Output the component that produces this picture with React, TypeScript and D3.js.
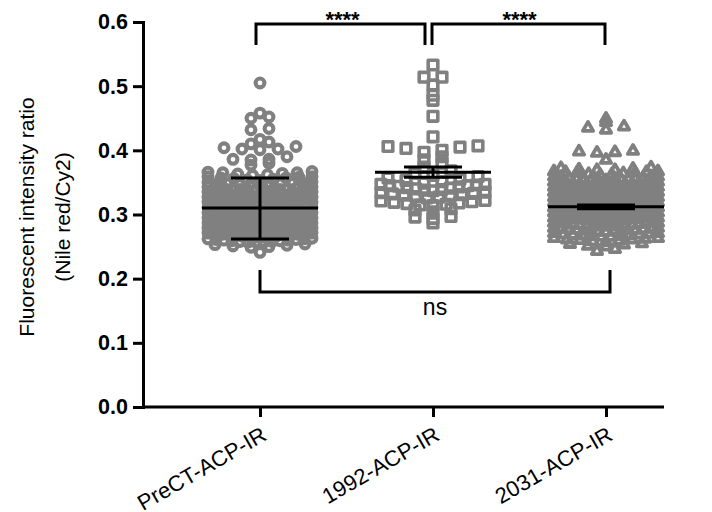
import React from 'react';
import * as d3 from 'd3';

const categories = ['PreCT-ACP-IR', '1992-ACP-IR', '2031-ACP-IR'];

const preCTValues = [
  0.241,
  0.249, 0.250, 0.251, 0.252, 0.253, 0.254,
  0.257, 0.257, 0.257, 0.258, 0.258, 0.259, 0.259, 0.260, 0.260, 0.261, 0.261, 0.262, 0.262, 0.263,
  0.265, 0.265, 0.265, 0.266, 0.266, 0.267, 0.267, 0.268, 0.268, 0.268, 0.269, 0.269, 0.270, 0.270, 0.271, 0.271,
  0.273, 0.273, 0.273, 0.274, 0.274, 0.275, 0.275, 0.276, 0.276, 0.276, 0.277, 0.277, 0.278, 0.278, 0.279, 0.279,
  0.281, 0.281, 0.281, 0.282, 0.282, 0.283, 0.283, 0.284, 0.284, 0.284, 0.285, 0.285, 0.286, 0.286, 0.287, 0.287, 0.287,
  0.289, 0.289, 0.289, 0.290, 0.290, 0.291, 0.291, 0.292, 0.292, 0.292, 0.293, 0.293, 0.294, 0.294, 0.295, 0.295, 0.295,
  0.297, 0.297, 0.297, 0.298, 0.298, 0.299, 0.299, 0.300, 0.300, 0.300, 0.301, 0.301, 0.302, 0.302, 0.303, 0.303, 0.303,
  0.305, 0.305, 0.305, 0.306, 0.306, 0.307, 0.307, 0.308, 0.308, 0.308, 0.309, 0.309, 0.310, 0.310, 0.311, 0.311, 0.311,
  0.313, 0.313, 0.313, 0.314, 0.314, 0.315, 0.315, 0.316, 0.316, 0.316, 0.317, 0.317, 0.318, 0.318, 0.319, 0.319,
  0.321, 0.321, 0.321, 0.322, 0.322, 0.323, 0.323, 0.324, 0.324, 0.324, 0.325, 0.325, 0.326, 0.326, 0.327, 0.327,
  0.329, 0.329, 0.330, 0.330, 0.331, 0.331, 0.332, 0.332, 0.332, 0.333, 0.333, 0.334, 0.334, 0.335, 0.335,
  0.337, 0.337, 0.338, 0.338, 0.339, 0.339, 0.340, 0.340, 0.341, 0.341, 0.342, 0.342, 0.343, 0.343,
  0.345, 0.346, 0.347, 0.347, 0.348, 0.348, 0.349, 0.349, 0.350, 0.350, 0.351,
  0.353, 0.354, 0.355, 0.356, 0.357, 0.357, 0.358, 0.359, 0.359,
  0.361, 0.362, 0.363, 0.364, 0.365, 0.365, 0.366, 0.367,
  0.377, 0.380, 0.385, 0.386, 0.386, 0.390,
  0.401, 0.402, 0.402, 0.404, 0.406, 0.410, 0.413, 0.417,
  0.432, 0.434, 0.450, 0.452, 0.458, 0.505,
];

const values1992 = [
  0.287, 0.294, 0.296, 0.297,
  0.304, 0.307, 0.309,
  0.314, 0.315, 0.316, 0.317, 0.318, 0.319, 0.320, 0.321, 0.322,
  0.326, 0.327, 0.328, 0.329, 0.330, 0.331, 0.332, 0.333, 0.334, 0.335,
  0.337, 0.338, 0.339, 0.340, 0.341, 0.342, 0.343, 0.344, 0.345, 0.345, 0.346, 0.347, 0.347,
  0.349, 0.351, 0.353, 0.355, 0.357, 0.359,
  0.361, 0.364, 0.368,
  0.374, 0.380,
  0.385, 0.390,
  0.397, 0.400, 0.403, 0.405, 0.406, 0.407,
  0.421, 0.453, 0.478, 0.486, 0.502, 0.514, 0.514, 0.533,
];

const values2031 = [
  0.243, 0.246,
  0.250, 0.251, 0.253, 0.254, 0.255,
  0.257, 0.258, 0.259, 0.260, 0.261, 0.261, 0.262, 0.263, 0.263,
  0.265, 0.265, 0.266, 0.266, 0.267, 0.268, 0.268, 0.269, 0.269, 0.270, 0.271, 0.271,
  0.273, 0.273, 0.274, 0.274, 0.275, 0.275, 0.276, 0.276, 0.276, 0.277, 0.277, 0.278, 0.278, 0.279, 0.279,
  0.281, 0.281, 0.281, 0.282, 0.282, 0.283, 0.283, 0.284, 0.284, 0.284, 0.285, 0.285, 0.286, 0.286, 0.287, 0.287, 0.287,
  0.289, 0.289, 0.289, 0.290, 0.290, 0.291, 0.291, 0.292, 0.292, 0.292, 0.293, 0.293, 0.294, 0.294, 0.295, 0.295, 0.295,
  0.297, 0.297, 0.297, 0.298, 0.298, 0.299, 0.299, 0.300, 0.300, 0.300, 0.301, 0.301, 0.302, 0.302, 0.303, 0.303, 0.303,
  0.305, 0.305, 0.305, 0.306, 0.306, 0.307, 0.307, 0.308, 0.308, 0.308, 0.309, 0.309, 0.310, 0.310, 0.311, 0.311, 0.311,
  0.313, 0.313, 0.313, 0.314, 0.314, 0.315, 0.315, 0.316, 0.316, 0.316, 0.317, 0.317, 0.318, 0.318, 0.319, 0.319, 0.319,
  0.321, 0.321, 0.321, 0.322, 0.322, 0.323, 0.323, 0.324, 0.324, 0.324, 0.325, 0.325, 0.326, 0.326, 0.327, 0.327, 0.327,
  0.329, 0.329, 0.329, 0.330, 0.330, 0.331, 0.331, 0.332, 0.332, 0.332, 0.333, 0.333, 0.334, 0.334, 0.335, 0.335, 0.335,
  0.337, 0.337, 0.337, 0.338, 0.338, 0.339, 0.339, 0.340, 0.340, 0.340, 0.341, 0.341, 0.342, 0.342, 0.343, 0.343, 0.343,
  0.345, 0.345, 0.345, 0.346, 0.346, 0.347, 0.347, 0.348, 0.348, 0.348, 0.349, 0.349, 0.350, 0.350, 0.351, 0.351, 0.351,
  0.353, 0.353, 0.354, 0.354, 0.355, 0.355, 0.356, 0.356, 0.356, 0.357, 0.357, 0.358, 0.358, 0.359, 0.359,
  0.361, 0.362, 0.363, 0.364, 0.365, 0.365, 0.366, 0.366, 0.367, 0.367,
  0.369, 0.369, 0.370, 0.371, 0.372, 0.373,
  0.385, 0.396, 0.397, 0.398, 0.399,
  0.432, 0.435, 0.437, 0.444, 0.449,
];

// mean and error bar ends
const means = [0.310, 0.366, 0.312];
const errLow = [0.262, 0.358, 0.309];
const errHigh = [0.357, 0.374, 0.315];

// row height used when spreading the points of each column
const rowHeights = [0.008, 0.012, 0.008];

const yTicks = [0, 0.1, 0.2, 0.3, 0.4, 0.5, 0.6];

const FONT = "'Liberation Sans', Arial, Helvetica, sans-serif";
const GREY = '#808080';

const App = () => {
  const ref = React.useRef<HTMLDivElement>(null);

  React.useEffect(() => {
    const root = d3.select(ref.current);
    root.selectAll('*').remove();

    const width = 712,
      height = 512;

    const svg = root
      .append('svg')
      .attr('width', width)
      .attr('height', height)
      .style('display', 'block')
      .style('font-family', FONT);

    const y = d3.scaleLinear().domain([0, 0.6]).range([407, 22]);
    const x = d3.scalePoint().domain(categories).range([260, 606]);

    const groups = [preCTValues, values1992, values2031];
    const symbols = [
      d3.symbol().type(d3.symbolCircle).size(61),
      d3.symbol().type(d3.symbolSquare).size(92),
      d3.symbol().type(d3.symbolTriangle).size(46),
    ];
    const strokeWidths = [4.1, 3.6, 3.8];

    // prism-like scatter: rows of points spread sideways around the column
    const maxStep = 18;
    const spread = 104;
    const swarm = (values: number[], binSize: number) => {
      const bins = d3.group(values, (v) => Math.floor(v / binSize + 1e-6));
      const out: { v: number; dx: number }[] = [];
      for (const [, vals] of bins) {
        const sorted = vals.slice().sort(d3.ascending);
        const k = sorted.length;
        const step = k > 1 ? Math.min(maxStep, spread / (k - 1)) : 0;
        const offsets = d3
          .range(k)
          .map((i) => (i - (k - 1) / 2) * step)
          .sort((a, b) => Math.abs(a) - Math.abs(b) || a - b);
        sorted.forEach((v, i) => out.push({ v, dx: offsets[i] }));
      }
      return out;
    };

    groups.forEach((vals, gi) => {
      const cx = x(categories[gi]) as number;
      svg
        .append('g')
        .selectAll('path')
        .data(swarm(vals, rowHeights[gi]))
        .join('path')
        .attr('d', symbols[gi]() as string)
        .attr('transform', (d) => `translate(${cx + d.dx},${y(d.v)})`)
        .attr('fill', 'none')
        .attr('stroke', GREY)
        .attr('stroke-width', strokeWidths[gi])
        .attr('stroke-linejoin', 'round');
    });

    // mean + error bars
    const bars = svg.append('g').attr('stroke', 'black').attr('stroke-width', 3);
    categories.forEach((c, i) => {
      const cx = x(c) as number;
      bars.append('line').attr('x1', cx - 58).attr('x2', cx + 58).attr('y1', y(means[i])).attr('y2', y(means[i]));
      bars.append('line').attr('x1', cx).attr('x2', cx).attr('y1', y(errLow[i])).attr('y2', y(errHigh[i]));
      bars.append('line').attr('x1', cx - 29).attr('x2', cx + 29).attr('y1', y(errLow[i])).attr('y2', y(errLow[i]));
      bars.append('line').attr('x1', cx - 29).attr('x2', cx + 29).attr('y1', y(errHigh[i])).attr('y2', y(errHigh[i]));
    });

    // y axis
    const yAxis = svg
      .append('g')
      .attr('transform', 'translate(143,0)')
      .call(d3.axisLeft(y).tickValues(yTicks).tickFormat(d3.format('.1f')).tickSize(10).tickSizeOuter(0).tickPadding(5));
    yAxis.select('.domain').attr('stroke-width', 3).attr('stroke-linecap', 'square');
    yAxis.selectAll('.tick line').attr('stroke-width', 3);
    yAxis
      .selectAll('.tick text')
      .attr('font-size', 21.5)
      .attr('font-weight', 'bold')
      .attr('font-family', FONT)
      .attr('fill', 'black');

    // x axis
    const xAxis = svg
      .append('g')
      .attr('transform', `translate(0,${y(0)})`)
      .call(d3.axisBottom(x).tickSize(10).tickSizeOuter(0).tickFormat(() => ''));
    xAxis.select('.domain').remove();
    xAxis.selectAll('.tick line').attr('stroke-width', 3);
    xAxis
      .append('line')
      .attr('x1', 143)
      .attr('x2', 664)
      .attr('stroke', 'black')
      .attr('stroke-width', 3);

    svg
      .append('g')
      .selectAll('text')
      .data(categories)
      .join('text')
      .attr('transform', (d) => `translate(${(x(d) as number) + 8},439) rotate(-30)`)
      .attr('text-anchor', 'end')
      .attr('font-size', 22)
      .text((d) => d);

    // y title
    const title = svg.append('g').attr('font-size', 21).attr('text-anchor', 'middle');
    title
      .append('text')
      .attr('transform', 'translate(34,217) rotate(-90)')
      .text('Fluorescent intensity ratio');
    title
      .append('text')
      .attr('transform', 'translate(70,217) rotate(-90)')
      .text('(Nile red/Cy2)');

    // significance brackets
    const x0 = x(categories[0]) as number,
      x1 = x(categories[1]) as number,
      x2 = x(categories[2]) as number;
    const brackets = svg.append('g').attr('fill', 'none').attr('stroke', 'black').attr('stroke-width', 3);
    const top = y(0.6) + 2;
    brackets.append('path').attr('d', `M${x0 - 4},45V${top}H${x1 - 8}V45`);
    brackets.append('path').attr('d', `M${x1 - 1},45V${top}H${x2 - 1}V45`);
    brackets.append('path').attr('d', `M${x0},270V292H${x2 + 4}V270`);

    const notes = svg.append('g').attr('text-anchor', 'middle');
    notes.append('text').attr('x', (x0 + x1) / 2 - 4).attr('y', 27).attr('font-size', 22).attr('font-weight', 'bold').text('****');
    notes.append('text').attr('x', (x1 + x2) / 2).attr('y', 27).attr('font-size', 22).attr('font-weight', 'bold').text('****');
    notes.append('text').attr('x', (x0 + x2) / 2 + 2).attr('y', 315).attr('font-size', 23).text('ns');

    return () => {
      root.selectAll('*').remove();
    };
  }, []);

  return <div ref={ref} style={{ position: 'absolute', left: 0, top: 0 }} />;
};

export default App;
